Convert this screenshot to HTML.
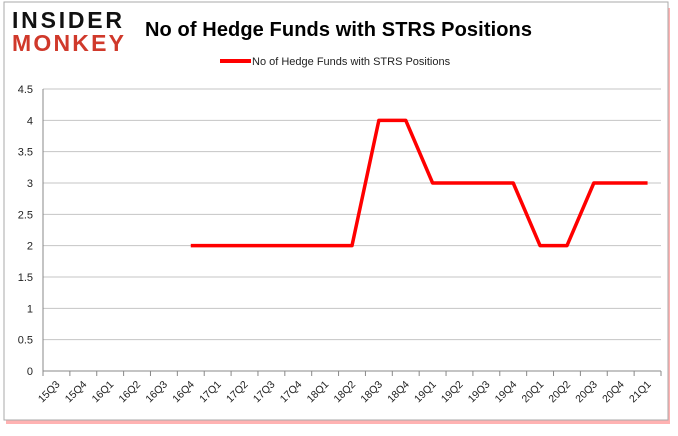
<!DOCTYPE html>
<html><head><meta charset="utf-8"><style>
body{margin:0;background:#fff;width:678px;height:431px;overflow:hidden;font-family:"Liberation Sans",sans-serif}
</style></head><body>
<svg width="678" height="431">
<rect x="6" y="8" width="664" height="416" fill="#f00" opacity="0.3"/>
<rect x="4" y="2" width="664" height="418" fill="#fff" stroke="#aaa"/>
<text x="12" y="28" font-size="23" font-weight="bold" fill="#111" textLength="110">INSIDER</text>
<text x="12" y="51" font-size="23" font-weight="bold" fill="#d0392b" textLength="112">MONKEY</text>
<text x="145" y="36" font-size="20" font-weight="bold" fill="#000" textLength="387">No of Hedge Funds with STRS Positions</text>
<line x1="220" y1="61" x2="251" y2="61" stroke="#f00" stroke-width="4"/>
<text x="252" y="65" font-size="11" fill="#222">No of Hedge Funds with STRS Positions</text>
<g id="g"></g>
</svg>
<script>
const categories=["15Q3","15Q4","16Q1","16Q2","16Q3","16Q4","17Q1","17Q2","17Q3","17Q4","18Q1","18Q2","18Q3","18Q4","19Q1","19Q2","19Q3","19Q4","20Q1","20Q2","20Q3","20Q4","21Q1"];
const values=[null,null,null,null,null,2,2,2,2,2,2,2,4,4,3,3,3,3,2,2,3,3,3];
const yTicks=[0,0.5,1,1.5,2,2.5,3,3.5,4,4.5];
const NS="http://www.w3.org/2000/svg",g=document.getElementById('g');
const x0=43,x1=661,y0=371,y1=89,cw=(x1-x0)/categories.length;
const X=i=>x0+(i+0.5)*cw, Y=v=>y0-(v/4.5)*(y0-y1);
function mk(t,a){const e=document.createElementNS(NS,t);for(const k in a)e.setAttribute(k,a[k]);g.appendChild(e);return e;}
yTicks.forEach(v=>{
 const l=mk('line',{x1:x0,x2:x1,y1:Y(v),y2:Y(v),stroke:v===0?'#888':'#c4c4c4'});
 
 
 const t=mk('text',{x:x0-10,y:Y(v)+4,'font-size':11,'text-anchor':'end',fill:'#222'});t.textContent=v;
 
 
});
const ax=mk('line',{x1:x0,x2:x0,y1:y1,y2:y0+4,stroke:'#888'});


categories.forEach((c,i)=>{
 const tk=mk('line',{x1:x0+i*cw,x2:x0+i*cw,y1:y0,y2:y0+5,stroke:'#888'});
 
 
 const t=mk('text',{x:X(i)+4,y:y0+14,'font-size':10.5,'text-anchor':'end',fill:'#222',transform:`rotate(-45 ${X(i)+4} ${y0+14})`});t.textContent=c;
 
 
});
const tk=mk('line',{x1:x1,x2:x1,y1:y0,y2:y0+5,stroke:'#888'});


let d='';values.forEach((v,i)=>{if(v!==null)d+=(d?'L':'M')+X(i)+' '+Y(v);});
const p=mk('path',{d:d,fill:'none',stroke:'#f00','stroke-width':3.5,'stroke-linejoin':'round'});


</script>
</body></html>
